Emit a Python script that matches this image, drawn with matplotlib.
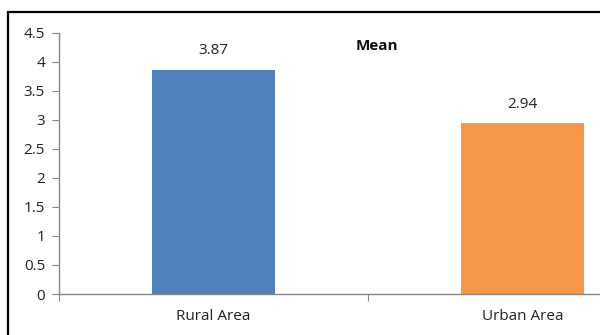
import matplotlib
matplotlib.use('Agg')
import matplotlib.pyplot as plt
from matplotlib.patches import Rectangle

# --- data ---
areas = ['Rural Area', 'Urban Area']
means = [3.87, 2.94]
bar_colors = ['#4f81bd', '#f79646']
y_ticks = [0, 0.5, 1, 1.5, 2, 2.5, 3, 3.5, 4, 4.5]
y_labels = ['0', '0.5', '1', '1.5', '2', '2.5', '3', '3.5', '4', '4.5']

plt.rcParams['font.family'] = ['Open Sans', 'DejaVu Sans']
FS = 11

W, H = 600, 335
fig = plt.figure(figsize=(W / 100, H / 100), dpi=100)
fig.patch.set_facecolor('white')

# plot area runs past the right edge of the canvas
ax = fig.add_axes([59 / W, 1 - 294 / H, (677 - 59) / W, (294 - 33) / H])

x = list(range(len(areas)))
bars = ax.bar(x, means, width=0.4, color=bar_colors, zorder=2)
for xi, v in zip(x, means):
    ax.text(xi, v + 0.2, f'{v:.2f}', ha='center', va='bottom', fontsize=FS, color='#222222')

ax.set_xlim(-0.5, 1.5)
ax.set_ylim(0, 4.5)
ax.set_yticks(y_ticks)
ax.set_yticklabels(y_labels)
ax.set_xticks([-0.5, 0.5, 1.5])
ax.set_xticklabels([])
ax.set_xticks(x, minor=True)
ax.set_xticklabels(areas, minor=True)

for side in ('top', 'right'):
    ax.spines[side].set_visible(False)
for side in ('left', 'bottom'):
    ax.spines[side].set_color('#868686')
    ax.spines[side].set_linewidth(1)

ax.tick_params(axis='y', direction='out', length=5, color='#868686',
               labelsize=FS, labelcolor='#222222', pad=5)
ax.tick_params(axis='x', which='major', direction='out', length=5, color='#868686')
ax.tick_params(axis='x', which='minor', length=0, labelsize=FS,
               labelcolor='#222222', pad=11)

fig.text(377 / W, 1 - 46 / H, 'Mean', ha='center', va='center',
         fontsize=FS, fontweight='bold', color='#111111')

# chart frame
fig.patches.append(Rectangle((8 / W, -0.1), 1.2, (H - 12) / H + 0.1,
                             transform=fig.transFigure, fill=False,
                             edgecolor='black', linewidth=1.6))

fig.savefig('out.png', dpi=100)
